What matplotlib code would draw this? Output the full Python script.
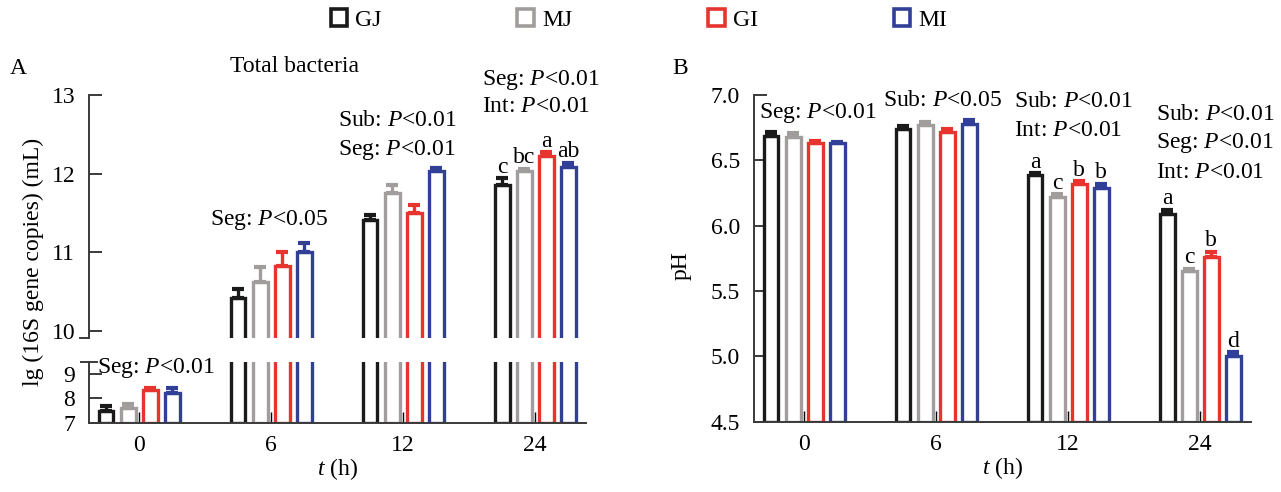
import matplotlib
matplotlib.use('Agg')
import matplotlib.pyplot as plt
from matplotlib.patches import Patch
import numpy as np

plt.rcParams['font.family'] = ['Liberation Serif', 'DejaVu Serif']
plt.rcParams['mathtext.fontset'] = 'custom'
plt.rcParams['mathtext.rm'] = 'Liberation Serif'
plt.rcParams['mathtext.it'] = 'Liberation Serif:italic'
FS = 17
plt.rcParams['font.size'] = FS

# ---------------- data ----------------
time_labels = ['0', '6', '12', '24']
groups = ['GJ', 'MJ', 'GI', 'MI']
colors = ['#1a1a1a', '#a29d9d', '#e8342e', '#323f97']

# Panel A: lg(16S gene copies) (mL)
bact_GJ = [7.50, 10.42, 11.41, 11.85]
bact_MJ = [7.60, 10.62, 11.75, 12.03]
bact_GI = [8.33, 10.83, 11.50, 12.23]
bact_MI = [8.24, 11.01, 12.03, 12.09]
bact_GJ_err = [0.17, 0.12, 0.06, 0.09]
bact_MJ_err = [0.17, 0.19, 0.10, 0.03]
bact_GI_err = [0.10, 0.17, 0.10, 0.04]
bact_MI_err = [0.18, 0.11, 0.04, 0.05]

# Panel B: pH
ph_GJ = [6.69, 6.74, 6.39, 6.09]
ph_MJ = [6.68, 6.77, 6.22, 5.65]
ph_GI = [6.63, 6.72, 6.32, 5.76]
ph_MI = [6.63, 6.78, 6.29, 5.00]
ph_GJ_err = [0.03, 0.02, 0.01, 0.03]
ph_MJ_err = [0.03, 0.02, 0.02, 0.02]
ph_GI_err = [0.02, 0.02, 0.02, 0.04]
ph_MI_err = [0.01, 0.03, 0.03, 0.03]

# significance annotations (text only)
bact_stats = [['Seg: $P$<0.01'], ['Seg: $P$<0.05'],
              ['Sub: $P$<0.01', 'Seg: $P$<0.01'],
              ['Seg: $P$<0.01', 'Int: $P$<0.01']]
ph_stats = [['Seg: $P$<0.01'], ['Sub: $P$<0.05'],
            ['Sub: $P$<0.01', 'Int: $P$<0.01'],
            ['Sub: $P$<0.01', 'Seg: $P$<0.01', 'Int: $P$<0.01']]
bact_letters_24 = ['c', 'bc', 'a', 'ab']
ph_letters_12 = ['a', 'c', 'b', 'b']
ph_letters_24 = ['a', 'c', 'b', 'd']

# ---------------- layout ----------------
W, H = 1281, 492
fig = plt.figure(figsize=(W / 100, H / 100), dpi=100)

def fx(px):
    return px / W

def fy(py):
    return 1 - py / H

axA_up = fig.add_axes([fx(89), fy(338), fx(497), fy(95) - fy(338)])
axA_lo = fig.add_axes([fx(89), fy(422.7), fx(497), fy(362) - fy(422.7)])
axB = fig.add_axes([fx(754), fy(421.7), fx(497), fy(95) - fy(421.7)])

x = np.arange(len(time_labels))
offsets = np.array([-1.5, -0.5, 0.5, 1.5]) * 0.167
bw = 0.112
lw = 2.4
spine_c = '#3a3a3a'

bact_means = [bact_GJ, bact_MJ, bact_GI, bact_MI]
bact_errs = [bact_GJ_err, bact_MJ_err, bact_GI_err, bact_MI_err]
ph_means = [ph_GJ, ph_MJ, ph_GI, ph_MI]
ph_errs = [ph_GJ_err, ph_MJ_err, ph_GI_err, ph_MI_err]


def draw(ax, means, errs, base):
    for i in range(4):
        m = np.array(means[i])
        e = np.array(errs[i])
        xi = x + offsets[i]
        ax.bar(xi, m - base, bottom=base, width=bw, facecolor='white',
               edgecolor=colors[i], linewidth=lw, zorder=2)
        ax.errorbar(xi, m, yerr=[np.zeros_like(e), e], fmt='none',
                    ecolor=colors[i], elinewidth=2.4, capsize=4.2,
                    capthick=3, zorder=3)


for ax in (axA_up, axA_lo, axB):
    ax.set_xlim(-0.38, 3.385)
    for s in ('top', 'right'):
        ax.spines[s].set_visible(False)
    for s in ('left', 'bottom'):
        ax.spines[s].set_color(spine_c)
        ax.spines[s].set_linewidth(1.4)
    ax.tick_params(axis='y', direction='in', length=9, width=1.4,
                   color=spine_c, pad=10, labelsize=FS)
    ax.tick_params(axis='x', direction='in', length=8, width=1.0,
                   color='black', pad=9, labelsize=FS)

draw(axA_up, bact_means, bact_errs, 7)
draw(axA_lo, bact_means, bact_errs, 7)
draw(axB, ph_means, ph_errs, 4.5)

# panel A upper
axA_up.set_ylim(10 - 7 / 78.7, 13)
axA_up.set_yticks([10, 11, 12, 13])
axA_up.spines['bottom'].set_visible(False)
axA_up.set_xticks([])
axA_up.plot([-0.018, 0], [0, 0], transform=axA_up.transAxes, clip_on=False,
            color=spine_c, lw=1.4)

# panel A lower
axA_lo.set_ylim(7, 9.5)
axA_lo.set_yticks([7, 8, 9])
axA_lo.set_xticks(x)
axA_lo.set_xticklabels(time_labels)
axA_lo.plot([-0.016, 0.016], [1, 1], transform=axA_lo.transAxes,
            clip_on=False, color=spine_c, lw=1.4)
axA_lo.set_xlabel('$t$ (h)', fontsize=FS, labelpad=0)

# panel B
axB.set_ylim(4.5, 7.0)
axB.set_yticks(np.arange(4.5, 7.01, 0.5))
axB.set_yticklabels([f'{v:.1f}' for v in np.arange(4.5, 7.01, 0.5)])
axB.set_xticks(x)
axB.set_xticklabels(time_labels)
axB.set_xlabel('$t$ (h)', fontsize=FS, labelpad=0)

# y labels
fig.text(fx(33), fy(262), 'lg (16S gene copies) (mL)', rotation=90,
         ha='center', va='center', fontsize=FS)
fig.text(fx(681), fy(266), 'pH', rotation=90, ha='center', va='center',
         fontsize=FS)

# panel labels and title
fig.text(fx(18), fy(68), 'A', ha='center', va='center', fontsize=FS)
fig.text(fx(680), fy(68), 'B', ha='center', va='center', fontsize=FS)
fig.text(fx(295), fy(66), 'Total bacteria', ha='center', va='center',
         fontsize=FS)

# stats annotations panel A
axA_lo.text(-0.32, 9.25, bact_stats[0][0], ha='left', va='center', fontsize=FS)
axA_up.text(0.54, 11.41, bact_stats[1][0], ha='left', va='center', fontsize=FS)
for line, yv in zip(bact_stats[2], [12.68, 12.30]):
    axA_up.text(1.51, yv, line, ha='left', va='center', fontsize=FS)
for line, yv in zip(bact_stats[3], [13.19, 12.85]):
    axA_up.text(2.595, yv, line, ha='left', va='center', fontsize=FS)

# stats annotations panel B
axB.text(-0.34, 6.86, ph_stats[0][0], ha='left', va='center', fontsize=FS)
axB.text(0.60, 6.96, ph_stats[1][0], ha='left', va='center', fontsize=FS)
for line, yv in zip(ph_stats[2], [6.95, 6.73]):
    axB.text(1.59, yv, line, ha='left', va='center', fontsize=FS)
for line, yv in zip(ph_stats[3], [6.847, 6.63, 6.41]):
    axB.text(2.664, yv, line, ha='left', va='center', fontsize=FS)


def letters(ax, gi, labs, means, errs):
    for i, lab in enumerate(labs):
        top = means[i][gi] + errs[i][gi]
        ax.annotate(lab, (gi + offsets[i], top), xytext=(0, 4),
                    textcoords='offset points', ha='center', va='baseline',
                    fontsize=FS)


letters(axA_up, 3, bact_letters_24, bact_means, bact_errs)
letters(axB, 2, ph_letters_12, ph_means, ph_errs)
letters(axB, 3, ph_letters_24, ph_means, ph_errs)

# legend
handles = [Patch(facecolor='white', edgecolor=c, linewidth=2.6) for c in colors]
fig.legend(handles, groups, loc='center', bbox_to_anchor=(fx(639), fy(20)),
           ncol=4, frameon=False, handlelength=0.7, handleheight=0.7,
           handletextpad=0.35, columnspacing=5.75, fontsize=FS)

fig.savefig('out.png', dpi=100)
